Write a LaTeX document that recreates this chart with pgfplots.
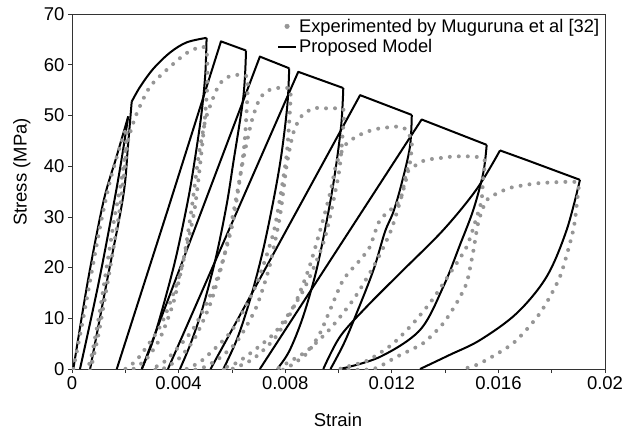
\documentclass[border=0pt]{standalone}
\usepackage{pgfplots}
\pgfplotsset{compat=1.18}
\usepackage{fontspec}
\setmainfont{Liberation Sans}
\definecolor{greyc}{RGB}{150,150,150}
\begin{document}
\begin{tikzpicture}
\begin{axis}[
  scale only axis, width=533bp, height=355bp,
  xmin=0, xmax=20, ymin=0, ymax=70,
  xtick={0,2,...,20},
  xticklabels={0,,0.004,,0.008,,0.012,,0.016,,0.02},
  ytick={0,10,...,70},
  tick pos=left, tick align=outside,
  major tick length=4bp,
  tick style={black!80, line width=0.7bp},
  axis line style={black!80, line width=0.8bp},
  /pgf/number format/assume math mode=true,
  ticklabel style={font=\fontsize{18.5bp}{20bp}\selectfont},
  label style={font=\fontsize{18.5bp}{20bp}\selectfont},
  xlabel={Strain}, ylabel={Stress (MPa)},
  xlabel style={at={(axis description cs:0.499,-0.144)}, anchor=center},
  ylabel style={at={(axis description cs:-0.094,0.555)}, anchor=center},
  legend style={draw=none, fill=none, at={(rel axis cs:0.995,0.995)}, anchor=north east,
    font=\fontsize{18.3bp}{21bp}\selectfont, legend cell align=left,
    row sep=2bp, inner sep=1bp},
  blk/.style={black, line width=2bp, line join=round, forget plot},
  blks/.style={black, line width=2bp, line join=round, forget plot, smooth, tension=0.55},
]
\addlegendimage{legend image code/.code={\fill[greyc] (9bp,0bp) circle (2.3bp);}}
\addlegendentry{Experimented by Muguruna et al [32]}
\addlegendimage{legend image code/.code={\draw[black,line width=2bp] (0bp,0bp) -- (18bp,0bp);}}
\addlegendentry{Proposed Model}

% ---- Proposed model (black) ----
\addplot[blks] coordinates {(0.05,0) (0.6,17.5) (1.18,33) (1.65,41.5) (2.11,49.8)};
\addplot[blks] coordinates {(2.11,49.8) (1.88,42) (1.6,33.5) (1.0,17) (0.3,0)};
\addplot[blks] coordinates {(0.68,0) (1.3,17) (1.92,34) (2.1,44) (2.24,52.7)};
\addplot[blks] coordinates {(2.24,52.7) (2.55,55.6) (3.05,59.2) (3.68,62.4) (4.3,64.4) (5.05,65.3)};
\addplot[blks] coordinates {(5.05,65.3) (5.0,58) (4.85,50) (4.6,41) (4.36,33.5) (3.9,22) (3.4,12) (3.0,5) (2.62,0)};
\addplot[blk] coordinates {(1.68,0) (3.6,31.5) (5.59,64.6) (6.53,62.8)};
\addplot[blks] coordinates {(6.53,62.8) (6.43,53.7) (6.05,40.6) (5.80,32.3) (5.4,22) (4.9,12) (4.45,5) (4.05,0)};
\addplot[blk] coordinates {(2.62,0) (7.05,61.6) (8.15,59.3)};
\addplot[blks] coordinates {(8.15,59.3) (8.08,52) (7.85,42) (7.55,33) (7.15,23) (6.7,14) (6.2,6) (5.68,0)};
\addplot[blk] coordinates {(3.6,0) (8.49,58.6) (10.18,55.4)};
\addplot[blks] coordinates {(10.18,55.4) (10.1,48) (9.85,38) (9.55,29) (9.15,19) (8.65,10) (8.15,3.5) (7.7,0)};
\addplot[blk] coordinates {(5.2,0) (10.81,54) (12.75,50.1)};
\addplot[blks] coordinates {(12.75,50.1) (12.68,43.8) (12.37,36.6) (12.06,31) (11.74,27) (11.31,19.5) (10.68,11) (10.2,5) (9.7,0)};
\addplot[blk] coordinates {(7.05,0) (13.12,49.2) (15.56,44.2)};
\addplot[blks] coordinates {(15.56,44.2) (15.43,38.6) (15.06,31.4) (14.56,24.5) (13.93,16.2) (13.06,7.7) (11.56,2.4) (10.06,0)};
\addplot[blks] coordinates {(9.43,0) (10.06,6.4) (11.06,12.3) (12.31,18.9) (13.93,27.4) (15.19,35.5) (16.06,43.1)};
\addplot[blk] coordinates {(16.06,43.1) (17.06,41.2) (19.06,37.3)};
\addplot[blks] coordinates {(19.06,37.3) (18.56,27.4) (17.81,18.2) (16.69,11.0) (15.31,5.7) (14.18,2.8) (13.06,0)};

% ---- Experiment (grey dots) ----
\addplot[greyc, line width=4bp, line cap=round, dash pattern=on 0bp off 9bp, forget plot, smooth, tension=0.4] coordinates {
 (0.05,0) (0.35,8) (0.7,18) (1.05,28) (1.4,36.5) (1.75,43) (2.05,47.5)
 (2.0,43) (1.85,37) (1.6,30) (1.3,20) (1.0,10) (0.75,3) (0.6,0)
 (0.7,0) (1.0,7) (1.4,19) (1.75,30) (1.95,38) (2.1,45) (2.43,50.4) (2.93,55.7) (3.68,59.6) (4.30,62.3) (4.87,63.6) (5.05,62.6)
 (5.08,56.3) (4.94,46.9) (4.59,31.1) (4.05,18.8) (3.34,8.7) (2.45,1.9) (2.0,0)
 (2.3,0) (2.8,2) (3.3,6) (3.8,13) (4.2,22) (4.5,32) (4.75,42) (5.0,49) (5.3,53.5) (5.55,56.3) (5.9,57.7) (6.18,58) (6.45,57.8) (6.6,57.3)
 (6.56,51.6) (6.44,42.9) (6.02,28.5) (5.40,17.2) (4.56,8.0) (3.53,1.7) (3.0,0)
 (3.4,0) (4.0,2) (4.6,6) (5.2,13) (5.7,22) (6.1,32) (6.45,42) (6.75,49) (7.05,53.4) (7.4,55) (7.68,55.4) (8.0,55.4) (8.2,55.0)
 (8.16,49.5) (8.03,41.2) (7.58,27.3) (6.90,16.5) (6.0,7.6) (4.87,1.65) (4.3,0)
 (4.8,0) (5.5,2) (6.2,5.5) (6.9,12) (7.4,20) (7.8,30) (8.05,40) (8.3,46.5) (8.6,49.8) (9.05,51.4) (9.5,51.4) (9.93,51.4) (10.2,51.0)
 (10.15,45.9) (10.0,38.2) (9.46,25.3) (8.66,15.3) (7.6,7.1) (6.27,1.5) (5.6,0)
 (6.0,0) (6.8,2) (7.6,6) (8.3,12) (8.9,20) (9.4,29) (9.7,35) (9.93,40.6) (10.31,44.5) (10.93,46.5) (11.5,47.4) (12.31,47.8) (12.6,46.8) (12.75,44.5)
 (12.68,40.6) (12.5,36.6) (12.18,30.7) (11.93,26.8) (11.4,21) (10.6,14) (9.7,8) (8.8,3.5) (7.7,0)
 (8.0,0) (8.8,3) (9.3,7) (9.68,11.6) (10.18,17.6) (10.81,21.5) (11.18,24.1) (11.56,29.4) (12.31,33.3) (12.56,39.2) (12.81,39.9) (13.25,41.2) (13.68,41.5) (14.31,41.9) (15.06,41.9) (15.43,41.5) (15.5,40.6)
 (15.43,37.9) (15.37,33.3) (15.19,30) (14.81,24.1) (14.2,19) (13.5,13.5) (12.8,9) (12.0,4.8) (11.06,1.6) (10.06,0)
 (11.3,0) (12.18,2.4) (13.18,5.1) (13.93,9.0) (14.43,13.0) (14.81,17) (15.05,23) (15.25,29) (15.56,33.3) (16.06,34.9) (16.5,35.8) (17.43,36.6) (18.56,36.9) (19.0,36.6)
 (18.95,33) (18.81,27.4) (18.31,18.2) (17.56,11.0) (16.56,5.1) (15.31,1.1) (14.68,0)
};
\end{axis}
\pgfresetboundingbox
\path[use as bounding box] (-72bp,-63bp) rectangle (555bp,369bp);
\end{tikzpicture}
\end{document}
